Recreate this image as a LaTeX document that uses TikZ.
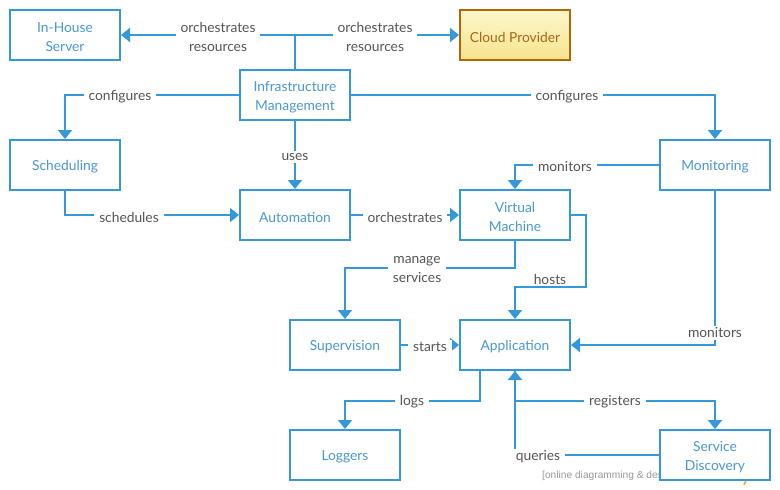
\documentclass[tikz,border=0pt]{standalone}
\usepackage{fontspec}
\setmainfont{Lato}
\newfontfamily\wmfont{Liberation Sans}
\usetikzlibrary{arrows.meta}
\definecolor{edgecol}{HTML}{3498DB}
\definecolor{boxtext}{HTML}{4A98D4}
\definecolor{labtext}{HTML}{555555}
\definecolor{cloudborder}{HTML}{B46504}
\definecolor{cloudtop}{HTML}{FDF7CC}
\definecolor{cloudbot}{HTML}{F7E48C}
\definecolor{cloudtext}{HTML}{A8661C}
\definecolor{wmgray}{HTML}{999999}
\definecolor{wmorange}{HTML}{F5A623}
\begin{document}
\begin{tikzpicture}[x=1pt,y=-1pt,
  boxshape/.style={draw=edgecol, line width=2pt, fill=white, minimum width=110pt, minimum height=50pt, inner sep=0pt},
  boxtxt/.style={text=boxtext, align=center, inner sep=0pt, yshift=-2pt, font=\fontsize{13.8}{19}\selectfont},
  box/.style={boxshape, label={[boxtxt]center:#1}},
  cloudbox/.style={boxshape, draw=cloudborder, top color=cloudtop, bottom color=cloudbot, label={[boxtxt, text=cloudtext]center:#1}},
  conn/.style={draw=edgecol, line width=2pt, -{Triangle[width=14pt,length=9pt]}},
  lab/.style={fill=white, text=labtext, align=center, inner xsep=5pt, inner ysep=2pt, yshift=-2pt, font=\fontsize{13.8}{19}\selectfont}]
\useasboundingbox[fill=white] (0,0) rectangle (780,490);

% watermark (partly hidden behind a box)
\node[anchor=base west, inner sep=0pt, text=wmgray, font=\wmfont\fontsize{10.2}{11}\selectfont] (wm) at (542,478) {[online diagramming \& design] creately.com};
\coordinate (wmA) at (748,476);
\coordinate (wmB) at (744,485);
\draw[wmorange, line width=1.5pt] (wmA) -- (wmB);

% boxes
\node[box={In-House\\Server}] (inhouse) at (65,35) {};
\node[cloudbox={Cloud Provider}] (cloud) at (515,35) {};
\node[box={Infrastructure\\Management}] (infra) at (295,95) {};
\node[box={Scheduling}] (sched) at (65,165) {};
\node[box={Monitoring}] (mon) at (715,165) {};
\node[box={Automation}] (auto) at (295,215) {};
\node[box={Virtual\\Machine}] (vm) at (515,215) {};
\node[box={Supervision}] (sup) at (345,345) {};
\node[box={Application}] (app) at (515,345) {};
\node[box={Loggers}] (log) at (345,455) {};
\node[box={Service\\Discovery}] (sd) at (715,455) {};

% connectors
\draw[conn] (infra.north) |- (inhouse.east);
\draw[conn] (infra.north) |- (cloud.west);
\draw[conn] (infra.west) -| (sched.north);
\draw[conn] (infra.east) -| (mon.north);
\draw[conn] (infra.south) -- (auto.north);
\draw[conn] (sched.south) |- (auto.west);
\draw[conn] (auto.east) -- (vm.west);
\draw[conn] (mon.west) -| (vm.north);
\draw[conn] (vm.south) -- ++(0,27) -| (sup.north);
\draw[conn] (vm.east) -- ++(15,0) -- ++(0,72) -| (app.north);
\draw[conn] (sup.east) -- (app.west);
\draw[conn] (mon.south) |- (app.east);
\draw[conn] ([xshift=-35pt]app.south) -- ++(0,30) -| (log.north);
\draw[conn] (app.south) -- ++(0,30) -| (sd.north);
\draw[conn] (sd.west) -| (app.south);

% labels
\node[lab] (l1) at (218,35) {orchestrates\\resources};
\node[lab] (l2) at (375,35) {orchestrates\\resources};
\node[lab] (l3) at (120,95) {configures};
\node[lab] (l4) at (567,95) {configures};
\node[lab] (l5) at (295,155) {uses};
\node[lab] (l6) at (129,215) {schedules};
\node[lab] (l7) at (405,215) {orchestrates};
\node[lab] (l8) at (565,165) {monitors};
\node[lab] (l9) at (417,267) {manage\\services};
\node[lab] (l10) at (550,277) {hosts};
\node[lab] (l11) at (430,345) {starts};
\node[lab] (l12) at (715,331) {monitors};
\node[lab] (l13) at (412,400) {logs};
\node[lab] (l14) at (615,400) {registers};
\node[lab] (l15) at (538,455) {queries};
\end{tikzpicture}
\end{document}
